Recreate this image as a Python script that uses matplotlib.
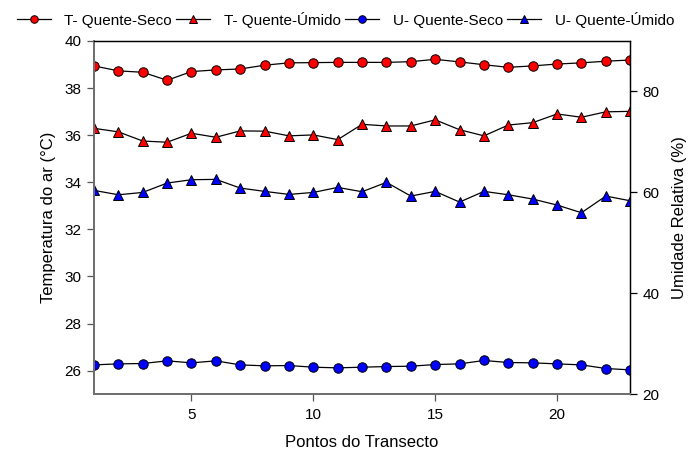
import numpy as np
import matplotlib
matplotlib.use('Agg')
import matplotlib.pyplot as plt

plt.rcParams['font.family'] = ['Liberation Sans', 'DejaVu Sans']

# ---------- data ----------
pontos = np.arange(1, 24)

# air temperature (°C)
t_quente_seco = [38.94, 38.73, 38.67, 38.33, 38.70, 38.77, 38.81, 38.97, 39.07, 39.08,
                 39.09, 39.09, 39.09, 39.12, 39.22, 39.11, 38.99, 38.88, 38.94, 39.02,
                 39.07, 39.14, 39.19]
t_quente_umido = [36.29, 36.14, 35.75, 35.70, 36.08, 35.91, 36.18, 36.17, 35.97, 36.01,
                  35.81, 36.46, 36.39, 36.39, 36.65, 36.23, 35.97, 36.43, 36.53, 36.90,
                  36.76, 36.99, 37.01]

# relative humidity (%)
u_quente_seco = [25.81, 26.01, 26.08, 26.61, 26.21, 26.61, 25.81, 25.62, 25.68, 25.35,
                 25.22, 25.35, 25.48, 25.55, 25.88, 26.01, 26.68, 26.28, 26.21, 26.01,
                 25.81, 25.09, 24.82]
u_quente_umido = [60.39, 59.52, 59.98, 61.84, 62.50, 62.57, 60.85, 60.19, 59.59, 59.98,
                  60.98, 60.12, 61.98, 59.26, 60.19, 58.07, 60.19, 59.52, 58.67, 57.48,
                  55.96, 59.26, 58.33]

# ---------- plot ----------
fs = 11
lw = 0.9
ms = 6.8

fig = plt.figure(figsize=(6.91, 4.5), dpi=100)
ax = fig.add_axes([0.136, 0.124, 0.776, 0.785])
ax2 = ax.twinx()

style = dict(color='black', linewidth=lw, markersize=ms, markeredgecolor='black',
             markeredgewidth=0.7)
l1, = ax.plot(pontos, t_quente_seco, marker='o', markerfacecolor='red', **style)
l2, = ax.plot(pontos, t_quente_umido, marker='^', markerfacecolor='red', **style)
l3, = ax2.plot(pontos, u_quente_seco, marker='o', markerfacecolor='blue', **style)
l4, = ax2.plot(pontos, u_quente_umido, marker='^', markerfacecolor='blue', **style)

ax.set_xlim(1, 23)
ax.set_ylim(25, 40)
ax2.set_ylim(20, 90)
ax.set_xticks([5, 10, 15, 20])
ax.set_yticks(np.arange(26, 41, 2))
ax2.set_yticks([20, 40, 60, 80])

ax.set_xlabel('Pontos do Transecto', fontsize=12, labelpad=9)
ax.set_ylabel('Temperatura do ar (°C)', fontsize=12, labelpad=6)
ax2.set_ylabel('Umidade Relativa (%)', fontsize=12, labelpad=9)

ax.tick_params(axis='both', labelsize=fs, length=5, width=0.9, color='#555555', pad=4)
ax.tick_params(axis='x', pad=5)
ax2.tick_params(axis='y', labelsize=fs, length=5, width=0.9, color='black', pad=4)

for a in (ax, ax2):
    a.spines['left'].set_color('#707070')
    a.spines['left'].set_linewidth(1.4)
    a.spines['bottom'].set_color('#707070')
    a.spines['bottom'].set_linewidth(1.4)
    a.spines['top'].set_color('black')
    a.spines['top'].set_linewidth(0.9)
    a.spines['right'].set_color('black')
    a.spines['right'].set_linewidth(0.9)

fig.legend([l1, l2, l3, l4],
           ['T- Quente-Seco', 'T- Quente-Úmido', 'U- Quente-Seco', 'U- Quente-Úmido'],
           loc='upper center', bbox_to_anchor=(0.5, 1.005), ncol=4, frameon=False,
           fontsize=fs, handlelength=2.2, handletextpad=0.9, columnspacing=0.3,
           markerscale=0.8)

fig.savefig('out.png', dpi=100)
